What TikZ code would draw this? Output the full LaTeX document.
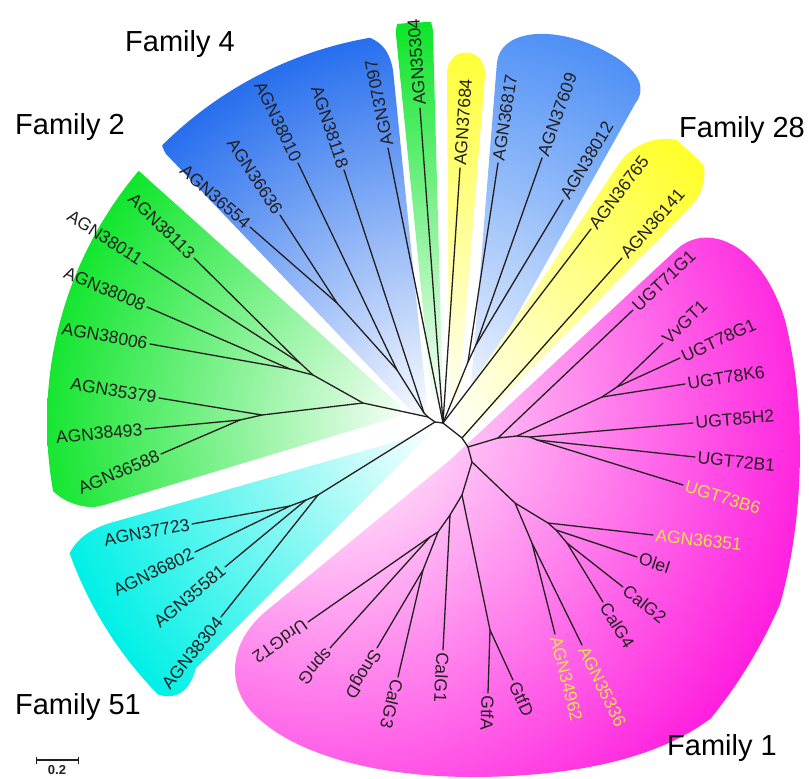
\documentclass[tikz,border=0pt]{standalone}
\usepackage{fontspec}
\setmainfont{Liberation Sans}
\usetikzlibrary{arrows.meta, calc}

\definecolor{treeline}{RGB}{35,31,32}
\definecolor{famblue}{RGB}{38,110,238}
\definecolor{famblueb}{RGB}{72,140,245}
\definecolor{famgreen}{RGB}{0,228,30}
\definecolor{famcyan}{RGB}{0,240,230}
\definecolor{famyellow}{RGB}{255,255,40}
\definecolor{fampink}{RGB}{255,30,222}
\definecolor{leafyellow}{RGB}{228,228,70}

\newcommand{\leaffont}{\fontsize{17.5}{20}\selectfont}
\newcommand{\famfont}{\fontsize{29}{34}\selectfont}

\begin{document}
\begin{tikzpicture}[x=1pt, y=-1pt,
        region/.style n args={3}{path picture={%
            \shade[inner color=white, outer color=#1] (#2) circle (#3);}},
        branch/.style={draw=treeline, line width=1.3pt, line cap=round},
        leaf/.style={font=\leaffont, text=treeline, inner sep=2.5pt},
        leafo/.style={leaf, anchor=west, rotate=#1},
        leafi/.style={leaf, anchor=east, rotate=#1},
        hit/.style={text=leafyellow},
        fam/.style={font=\famfont, text=black}
    ]
    \useasboundingbox (0,0) rectangle (809,779);

    \coordinate (ctr) at (437,422);
    \coordinate (pinkc) at (330,410);

    % family backgrounds
    \path[region={famblue}{ctr}{390pt}] (420,420) -- (427,405) -- (393,70)
        .. controls (388,42) and (372,32) .. (330,32)
        .. controls (262,30) and (185,68) .. (166,118)
        .. controls (160,135) and (160,145) .. (166,154) -- cycle;
    \path[region={famgreen}{ctr}{400pt}] (432,400) -- (396,35)
        .. controls (394,2) and (434,2) .. (433,35) -- (443,405) -- cycle;
    \path[region={famyellow}{ctr}{400pt}] (449,405) -- (447,75)
        .. controls (446,45) and (486,45) .. (485,75) -- (458,410) -- cycle;
    \path[region={famblueb}{ctr}{420pt}] (470,398) -- (497,62)
        .. controls (501,32) and (545,26) .. (590,44)
        .. controls (628,60) and (652,82) .. (635,104) -- (478,385) -- cycle;
    \path[region={famyellow}{ctr}{370pt}] (455,410) -- (620,162)
        .. controls (640,135) and (685,128) .. (702,160)
        .. controls (708,175) and (702,195) .. (692,205) -- (462,440) -- cycle;
    \path[region={fampink}{pinkc}{490pt}] (450,460) -- (676,250)
        .. controls (705,222) and (760,240) .. (785,320)
        .. controls (810,420) and (805,560) .. (760,660)
        .. controls (720,740) and (620,775) .. (480,777)
        .. controls (380,778) and (290,755) .. (250,710)
        .. controls (225,680) and (232,640) .. (265,612) -- cycle;
    \path[region={famgreen}{ctr}{390pt}] (400,405) -- (140,172)
        .. controls (118,150) and (82,150) .. (58,182)
        .. controls (30,218) and (12,290) .. (12,370)
        .. controls (14,440) and (40,492) .. (72,503)
        .. controls (85,508) and (95,508) .. (104,505) -- (400,416) -- cycle;
    \path[region={famcyan}{ctr}{390pt}] (430,432) -- (110,523)
        .. controls (78,533) and (63,552) .. (63,585)
        .. controls (65,635) and (110,682) .. (160,695)
        .. controls (178,700) and (190,690) .. (196,668) -- (430,434) -- cycle;

    % internal nodes
    \coordinate (c0) at (435,422);
    \coordinate (c1) at (428,417);
    \coordinate (c2) at (443,423);
    \coordinate (c3) at (462,438);
    \coordinate (p0) at (468,447);
    \coordinate (f2) at (363,403);
    \coordinate (f2u) at (313,375);
    \coordinate (f2b) at (300,363);
    \coordinate (f2c) at (290,369);
    \coordinate (f2l) at (262,415);
    \coordinate (f2m) at (240,420);
    \coordinate (n4a) at (337,303);
    \coordinate (n4b) at (397,370);
    \coordinate (n4c) at (424,413);
    \coordinate (n4y) at (468,362);
    \coordinate (n4x) at (476,345);
    \coordinate (n51) at (318,495);
    \coordinate (n51a) at (306,500);
    \coordinate (n51b) at (290,506);
    \coordinate (u1) at (498,438);
    \coordinate (u2) at (517,436);
    \coordinate (u3) at (602,397);
    \coordinate (u6) at (617,387);
    \coordinate (u4) at (530,437);
    \coordinate (u5) at (537,440);
    \coordinate (p1) at (472,462);
    \coordinate (p2) at (462,495);
    \coordinate (p3) at (515,503);
    \coordinate (gt) at (490,630);
    \coordinate (n1d) at (450,515);
    \coordinate (n1e) at (438,532);
    \coordinate (n1f) at (430,537);
    \coordinate (n1g) at (423,570);
    \coordinate (n1a) at (532,543);
    \coordinate (n1h) at (548,523);
    \coordinate (n1k) at (556,530);
    \coordinate (n1j) at (567,543);

    % Family 2
    \node[leafi=-44.7] (a38113) at (194,258) {AGN38113};
    \node[leafi=-32.8] (a38011) at (143,262) {AGN38011};
    \node[leafi=-23.4] (a38008) at (147,307) {AGN38008};
    \node[leafi=-10.1] (a38006) at (150,344) {AGN38006};
    \node[leafi=-9.4] (a35379) at (159,398) {AGN35379};
    \node[leafi=5.4] (a38493) at (145,429) {AGN38493};
    \node[leafi=23.3] (a36588) at (161,454) {AGN36588};

    % Family 51
    \node[leafi=10.4] (a37723) at (192,524) {AGN37723};
    \node[leafi=25.8] (a36802) at (195,552) {AGN36802};
    \node[leafi=39.6] (a35581) at (225,567) {AGN35581};
    \node[leafi=51.5] (a38304) at (221,617) {AGN38304};

    % Family 1
    \node[leafo=214.9] (urdgt2) at (308,622) {UrdGT2};
    \node[leafo=228] (spng) at (330,648) {spnG};
    \node[leafo=239.5] (snogd) at (377,648) {SnogD};
    \node[leafo=256.8] (calg3) at (398,677) {CalG3};
    \node[leafo=267] (calg1) at (443,650) {CalG1};
    \node[leafo=268.2] (gtfa) at (488,693) {GtfA};
    \node[leafo=-65.3] (gtfd) at (513,680) {GtfD};
    \node[leafo=-75.8, hit] (a34962) at (555,634) {AGN34962};
    \node[leafo=-63.9, hit] (a35336) at (582,645) {AGN35336};
    \node[leafo=-58.6] (calg4) at (603,602) {CalG4};
    \node[leafo=-38.2] (calg2) at (623,587) {CalG2};
    \node[leafo=-18.4] (olei) at (637,557) {OleI};
    \node[leafo=-6.5, hit] (a36351) at (653,535) {AGN36351};
    \node[leafo=-17.1, hit] (ugt73b6) at (683,485) {UGT73B6};
    \node[leafo=-6.1] (ugt72b1) at (695,457) {UGT72B1};
    \node[leafo=4.9] (ugt85h2) at (693,423) {UGT85H2};
    \node[leafo=8.9] (ugt78k6) at (685,384) {UGT78K6};
    \node[leafo=24.7] (ugt78g1) at (680,358) {UGT78G1};
    \node[leafo=43.7] (vvgt1) at (663,343) {VvGT1};
    \node[leafo=43.5] (ugt71g1) at (633,310) {UGT71G1};

    % Family 28 and the top
    \node[leafo=48.4] (a36141) at (622,258) {AGN36141};
    \node[leafo=52.7] (a36765) at (591,229) {AGN36765};
    \node[leafo=59] (a38012) at (563,200) {AGN38012};
    \node[leafo=70.6] (a37609) at (542,158) {AGN37609};
    \node[leafo=81.4] (a36817) at (498,163) {AGN36817};
    \node[leafo=86.2] (a37684) at (460,168) {AGN37684};
    \node[leafo=94.2] (a35304) at (420,108) {AGN35304};
    \node[leafo=101.3] (a37097) at (388,148) {AGN37097};

    % Family 4
    \node[leafi=-71.8] (a38118) at (344,170) {AGN38118};
    \node[leafi=-64.4] (a38010) at (298,163) {AGN38010};
    \node[leafi=-57.1] (a36636) at (280,215) {AGN36636};
    \node[leafi=-41.1] (a36554) at (250,227) {AGN36554};

    % branches
    \draw[branch] (c1) -- (c0) -- (c2) -- (c3) -- (p0);
    \draw[branch] (c0) -- (n51);
    \draw[branch] (c1) -- (f2) -- (f2u) -- (f2b) -- (a38113.east);
    \draw[branch] (f2b) -- (a38011.east);
    \draw[branch] (f2u) -- (f2c) -- (a38008.east);
    \draw[branch] (f2c) -- (a38006.east);
    \draw[branch] (f2) -- (f2l) -- (a35379.east);
    \draw[branch] (f2l) -- (f2m) -- (a38493.east);
    \draw[branch] (f2m) -- (a36588.east);
    \draw[branch] (c1) -- (n4c) -- (a38118.east);
    \draw[branch] (n4c) -- (n4b) -- (a38010.east);
    \draw[branch] (n4b) -- (n4a) -- (a36636.east);
    \draw[branch] (n4a) -- (a36554.east);
    \draw[branch] (c2) -- (a37097.west);
    \draw[branch] (c2) -- (a35304.west);
    \draw[branch] (c2) -- (a37684.west);
    \draw[branch] (c2) -- (a36765.west);
    \draw[branch] (c2) -- (n4y) -- (a36817.west);
    \draw[branch] (n4y) -- (n4x) -- (a37609.west);
    \draw[branch] (n4x) -- (a38012.west);
    \draw[branch] (c3) -- (a36141.west);
    \draw[branch] (n51) -- (a38304.east);
    \draw[branch] (n51) -- (n51a) -- (a35581.east);
    \draw[branch] (n51a) -- (n51b) -- (a37723.east);
    \draw[branch] (n51b) -- (a36802.east);
    \draw[branch] (p0) -- (u1) -- (ugt71g1.west);
    \draw[branch] (u1) -- (u2) -- (u3) -- (ugt78k6.west);
    \draw[branch] (u3) -- (u6) -- (vvgt1.west);
    \draw[branch] (u6) -- (ugt78g1.west);
    \draw[branch] (u2) -- (u4) -- (ugt85h2.west);
    \draw[branch] (u4) -- (u5) -- (ugt72b1.west);
    \draw[branch] (u5) -- (ugt73b6.west);
    \draw[branch] (p0) -- (p1) -- (p2) -- (n1d) -- (calg1.west);
    \draw[branch] (p2) -- (gt) -- (gtfa.west);
    \draw[branch] (gt) -- (gtfd.west);
    \draw[branch] (n1d) -- (n1e) -- (n1f) -- (urdgt2.west);
    \draw[branch] (n1f) -- (spng.west);
    \draw[branch] (n1e) -- (n1g) -- (snogd.west);
    \draw[branch] (n1g) -- (calg3.west);
    \draw[branch] (p1) -- (p3) -- (n1a) -- (a34962.west);
    \draw[branch] (n1a) -- (a35336.west);
    \draw[branch] (p3) -- (n1h) -- (a36351.west);
    \draw[branch] (n1h) -- (n1k) -- (olei.west);
    \draw[branch] (n1k) -- (n1j) -- (calg2.west);
    \draw[branch] (n1j) -- (calg4.west);

    % family names
    \node[fam] (fam4) at (180,44) {Family 4};
    \node[fam] (fam2) at (70,127) {Family 2};
    \node[fam] (fam28) at (742,130) {Family 28};
    \node[fam] (fam51) at (78,707) {Family 51};
    \node[fam] (fam1) at (722,748) {Family 1};

    % scale bar
    \coordinate (sbl) at (36,760);
    \coordinate (sbr) at (79,760);
    \draw[draw=treeline, line width=1.3pt, {Bar[width=7pt]}-{Bar[width=7pt]}] (sbl) -- (sbr);
    \node[font=\bfseries\fontsize{13}{15}\selectfont, text=treeline, inner sep=1pt] (sbtext) at (57,770) {0.2};
\end{tikzpicture}
\end{document}
